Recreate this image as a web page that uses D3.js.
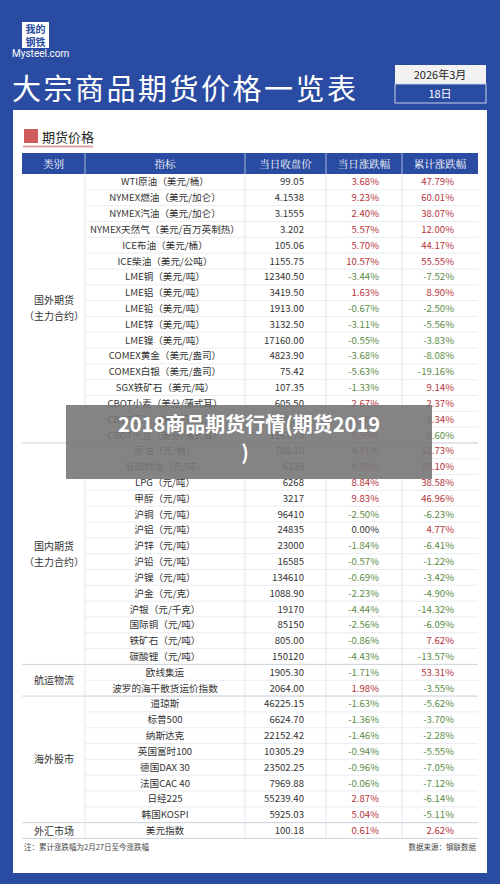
<!DOCTYPE html>
<html>
<head>
<meta charset="utf-8">
<script src="https://d3js.org/d3.v7.min.js"></script>
<style>body{margin:0;background:#fff}svg{display:block;font-family:"Noto Sans CJK SC","Noto Sans",sans-serif}</style>
</head>
<body>
<script>
// table data
var groups = ["国外期货\n（主力合约）", "国内期货\n（主力合约）", "航运物流", "海外股市", "外汇市场"];
var groupSizes = [17, 14, 2, 8, 1];
var names = ["WTI原油（美元/桶）","NYMEX燃油（美元/加仑）","NYMEX汽油（美元/加仑）","NYMEX天然气（美元/百万英制热）","ICE布油（美元/桶）","ICE柴油（美元/公吨）","LME铜（美元/吨）","LME铝（美元/吨）","LME铅（美元/吨）","LME锌（美元/吨）","LME镍（美元/吨）","COMEX黄金（美元/盎司）","COMEX白银（美元/盎司）","SGX铁矿石（美元/吨）","CBOT小麦（美分/蒲式耳）","CBOT玉米（美分/蒲式耳）","CBOT大豆（美分/蒲式耳）",
  "原油（元/桶）","低硫燃油（元/吨）","LPG（元/吨）","甲醇（元/吨）","沪铜（元/吨）","沪铝（元/吨）","沪锌（元/吨）","沪铅（元/吨）","沪镍（元/吨）","沪金（元/克）","沪银（元/千克）","国际铜（元/吨）","铁矿石（元/吨）","碳酸锂（元/吨）",
  "欧线集运","波罗的海干散货运价指数",
  "道琼斯","标普500","纳斯达克","英国富时100","德国DAX 30","法国CAC 40","日经225","韩国KOSPI","美元指数"];
var closes = ["99.05","4.1538","3.1555","3.202","105.06","1155.75","12340.50","3419.50","1913.00","3132.50","17160.00","4823.90","75.42","107.35","605.50","465.50","1163.75",
  "788.10","6139","6268","3217","96410","24835","23000","16585","134610","1088.90","19170","85150","805.00","150120",
  "1905.30","2064.00","46225.15","6624.70","22152.42","10305.29","23502.25","7969.88","55239.40","5925.03","100.18"];
var daily = [3.68,9.23,2.40,5.57,5.70,10.57,-3.44,1.63,-0.67,-3.11,-0.55,-3.68,-5.63,-1.33,2.67,2.20,0.58,
  4.91,9.90,8.84,9.83,-2.50,0.00,-1.84,-0.57,-0.69,-2.23,-4.44,-2.56,-0.86,-4.43,
  -1.71,1.98,-1.63,-1.36,-1.46,-0.94,-0.96,-0.06,2.87,5.04,0.61];
var cumul = [47.79,60.01,38.07,12.00,44.17,55.55,-7.52,8.90,-2.50,-5.56,-3.83,-8.08,-19.16,9.14,2.37,3.34,-0.60,
  62.73,78.10,38.58,46.96,-6.23,4.77,-6.41,-1.22,-3.42,-4.90,-14.32,-6.09,7.62,-13.57,
  53.31,-3.55,-5.62,-3.70,-2.28,-5.55,-7.05,-7.12,-6.14,-5.11,2.62];
var headers = ["类别","指标","当日收盘价","当日涨跌幅","累计涨跌幅"];

var W = 500, H = 884, blue = "#2a4ba2", red = "#b5333a", green = "#5b8c46";
var svg = d3.select("body").append("svg").attr("width", W).attr("height", H);
svg.append("rect").attr("width", W).attr("height", H).attr("fill", blue);
svg.append("rect").attr("x", 13).attr("y", 110).attr("width", 474).attr("height", 123 + 640).attr("fill", "#fff");

// logo
var lg = svg.append("g").attr("fill", "#fff");
lg.append("rect").attr("x", 22).attr("y", 22).attr("width", 27).attr("height", 26).attr("fill", "#fff");
lg.append("text").attr("x", 35.5).attr("y", 33).attr("text-anchor", "middle").attr("font-size", 10).attr("fill", blue).attr("font-weight", "bold").text("我的");
lg.append("text").attr("x", 35.5).attr("y", 46).attr("text-anchor", "middle").attr("font-size", 10).attr("fill", blue).attr("font-weight", "bold").text("钢铁");
lg.append("text").attr("x", 12).attr("y", 57).attr("font-size", 10).attr("font-family", "Roboto").text("Mysteel.com");

svg.append("text").attr("x", 12).attr("y", 100).attr("fill", "#fff").attr("font-size", 29).attr("letter-spacing", 2.5).text("大宗商品期货价格一览表");
svg.append("rect").attr("x", 395).attr("y", 65).attr("width", 91).attr("height", 19).attr("fill", "#f2f2f2");
svg.append("rect").attr("x", 395).attr("y", 84).attr("width", 91).attr("height", 19).attr("fill", blue).attr("stroke", "#c8d0e8");
svg.append("text").attr("x", 440).attr("y", 79).attr("text-anchor", "middle").attr("font-size", 11).attr("fill", "#222").text("2026年3月");
svg.append("text").attr("x", 440).attr("y", 98).attr("text-anchor", "middle").attr("font-size", 11).attr("fill", "#fff").text("18日");

// section label
svg.append("rect").attr("x", 24).attr("y", 129).attr("width", 14).attr("height", 14).attr("fill", "#cf5a5a");
svg.append("text").attr("x", 42).attr("y", 142).attr("font-size", 13).attr("fill", "#222").text("期货价格");
svg.append("line").attr("x1", 23).attr("x2", 93).attr("y1", 146.5).attr("y2", 146.5).attr("stroke", "#e0a0a0").attr("stroke-width", 2);

// columns
var colEdges = [22, 85, 245, 326, 402, 478];
var tableTop = 153, headH = 21, rowH = 15.82;
var n = names.length;
var y = d3.scaleLinear().domain([0, n]).range([tableTop + headH, tableTop + headH + n * rowH]);

svg.append("rect").attr("x", 22).attr("y", tableTop).attr("width", 456).attr("height", headH).attr("fill", blue);
headers.forEach(function (h, i) {
  svg.append("text").attr("x", (colEdges[i] + colEdges[i + 1]) / 2).attr("y", tableTop + 15)
    .attr("text-anchor", "middle").attr("font-size", 10.5).attr("fill", "#fff").attr("font-family", "Noto Serif CJK SC,serif").text(h);
  if (i > 0) svg.append("line").attr("x1", colEdges[i]).attr("x2", colEdges[i]).attr("y1", tableTop).attr("y2", tableTop + headH).attr("stroke", "#fff").attr("stroke-opacity", 0.6);
});

// row lines
svg.append("g").selectAll("line").data(d3.range(1, n)).enter().append("line")
  .attr("x1", 85).attr("x2", 478).attr("y1", function (d) { return y(d); }).attr("y2", function (d) { return y(d); })
  .attr("stroke", "#e4e7ee").attr("stroke-width", 0.8);
// group separators and labels
var start = 0;
groups.forEach(function (g, gi) {
  var end = start + groupSizes[gi];
  if (gi > 0) svg.append("line").attr("x1", 22).attr("x2", 478).attr("y1", y(start)).attr("y2", y(start)).attr("stroke", "#cfd4de");
  var lines = g.split("\n"), cy = (y(start) + y(end)) / 2;
  lines.forEach(function (t, li) {
    svg.append("text").attr("x", 54).attr("y", cy + 4 + (li - (lines.length - 1) / 2) * 16)
      .attr("text-anchor", "middle").attr("font-size", 10).attr("fill", "#333").text(t);
  });
  start = end;
});
svg.append("line").attr("x1", 22).attr("x2", 478).attr("y1", y(n)).attr("y2", y(n)).attr("stroke", "#cfd4de");
[85, 245, 326, 402].forEach(function (x) {
  svg.append("line").attr("x1", x).attr("x2", x).attr("y1", y(0)).attr("y2", y(n)).attr("stroke", "#e4e7ee");
});

var rows = svg.append("g").selectAll("g").data(d3.range(n)).enter().append("g")
  .attr("transform", function (i) { return "translate(0," + (y(i) + rowH / 2 + 3.5) + ")"; })
  .attr("font-size", 9.6);
rows.append("text").attr("x", 165).attr("text-anchor", "middle").attr("fill", "#333").text(function (i) { return names[i]; });
rows.append("text").attr("x", 304).attr("text-anchor", "end").attr("fill", "#333").text(function (i) { return closes[i]; });
function pc(v) { return v.toFixed(2) + "%"; }
function col(v) { return v > 0 ? red : v < 0 ? green : "#333"; }
rows.append("text").attr("x", 379).attr("text-anchor", "end").attr("fill", function (i) { return col(daily[i]); }).text(function (i) { return pc(daily[i]); });
rows.append("text").attr("x", 454).attr("text-anchor", "end").attr("fill", function (i) { return col(cumul[i]); }).text(function (i) { return pc(cumul[i]); });

svg.append("text").attr("x", 24).attr("y", y(n) + 12).attr("font-size", 7.5).attr("fill", "#444").text("注：累计涨跌幅为2月27日至今涨跌幅");
svg.append("text").attr("x", 476).attr("y", y(n) + 12).attr("text-anchor", "end").attr("font-size", 7.5).attr("fill", "#444").text("数据来源：钢联数据");

// overlay caption
svg.append("rect").attr("x", 66).attr("y", 405).attr("width", 366).attr("height", 74).attr("fill", "#777").attr("fill-opacity", 0.9);
svg.append("text").attr("x", 249).attr("y", 432).attr("text-anchor", "middle").attr("font-size", 20).attr("font-weight", "bold").attr("fill", "#fff").text("2018商品期货行情(期货2019");
svg.append("text").attr("x", 245).attr("y", 460).attr("text-anchor", "middle").attr("font-size", 20).attr("font-weight", "bold").attr("fill", "#fff").text(")");
</script>
</body>
</html>
